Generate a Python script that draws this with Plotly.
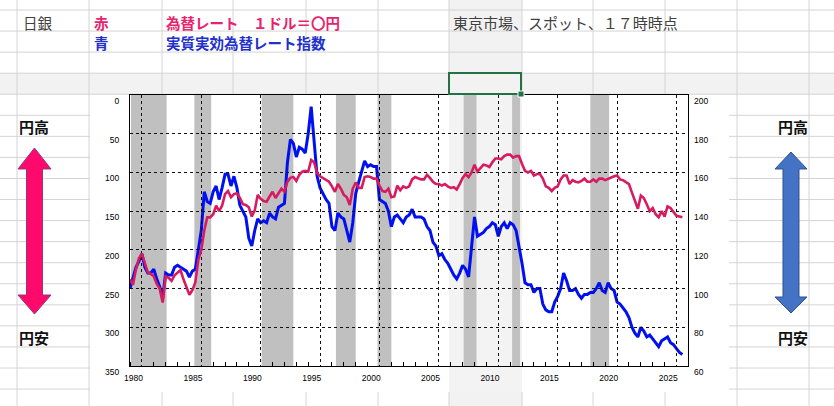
import numpy as np
import pandas as pd
import plotly.graph_objects as go

# ==================== データ ====================
# 四半期（1月・4月・7月・10月）の値を画像から読み取り
start_quarter = "1980Q1"

# 赤：為替レート 1ドル＝○円（左軸・反転）
usd_jpy = [
    238, 245, 225, 211,   # 1980
    205, 218, 229, 231,   # 1981
    234, 244, 250, 268,   # 1982
    234, 236, 240, 233,   # 1983
    230, 226, 238, 247,   # 1984
    258, 252, 242, 213,   # 1985
    200, 175, 158, 158,   # 1986
    154, 143, 150, 143,   # 1987
    128, 124, 132, 128,   # 1988
    127, 133, 141, 142,   # 1989
    145, 157, 149, 129,   # 1990
    134, 137, 138, 131,   # 1991
    125, 133, 127, 121,   # 1992
    125, 112, 107, 106,   # 1993
    111, 103, 99, 98,     # 1994
    99, 84, 87, 101,      # 1995
    105, 107, 109, 112,   # 1996
    118, 125, 115, 121,   # 1997
    129, 132, 142, 121,   # 1998
    113, 120, 120, 106,   # 1999
    105, 106, 108, 108,   # 2000
    117, 124, 125, 121,   # 2001
    132, 131, 117, 123,   # 2002
    118, 120, 118, 109,   # 2003
    106, 107, 109, 109,   # 2004
    103, 107, 112, 115,   # 2005
    115, 117, 115, 118,   # 2006
    120, 119, 122, 115,   # 2007
    107, 102, 106, 100,   # 2008
    90, 99, 95, 90,       # 2009
    91, 93, 87, 82,       # 2010
    82, 83, 79, 77,       # 2011
    77, 81, 79, 79,       # 2012
    89, 98, 100, 98,      # 2013
    104, 102, 102, 108,   # 2014
    118, 120, 124, 120,   # 2015
    118, 109, 104, 104,   # 2016
    115, 110, 112, 113,   # 2017
    111, 108, 112, 112,   # 2018
    109, 112, 108, 108,   # 2019
    110, 108, 107, 105,   # 2020
    104, 109, 110, 113,   # 2021
    115, 126, 136, 147,   # 2022
    130, 133, 141, 150,   # 2023
    146, 154, 158, 150,   # 2024
    157, 144, 146, 151,   # 2025
    156, 157, 158,        # 2026
]

# 青：実質実効為替レート指数（右軸）
reer = [
    100, 106, 111, 114,   # 1980
    118, 111, 108, 108,   # 1981
    110, 105, 101, 95,    # 1982
    108, 107, 107, 111,   # 1983
    112, 111, 110, 109,   # 1984
    106, 109, 110, 120,   # 1985
    130, 150, 145, 144,   # 1986
    150, 153, 146, 152,   # 1987
    159, 159, 153, 158,   # 1988
    152, 143, 140, 137,   # 1989
    126, 122, 130, 136,   # 1990
    134, 135, 134, 139,   # 1991
    137, 136, 142, 143,   # 1992
    144, 165, 177, 175,   # 1993
    168, 173, 172, 170,   # 1994
    180, 194, 175, 158,   # 1995
    152, 149, 146, 144,   # 1996
    132, 130, 139, 137,   # 1997
    136, 130, 124, 134,   # 1998
    149, 155, 160, 166,   # 1999
    163, 164, 163, 163,   # 2000
    146, 145, 144, 140,   # 2001
    132, 137, 138, 136,   # 2002
    134, 137, 138, 141,   # 2003
    137, 137, 137, 136,   # 2004
    132, 130, 124, 122,   # 2005
    117, 118, 115, 113,   # 2006
    110, 107, 105, 108,   # 2007
    112, 110, 106, 120,   # 2008
    137, 127, 128, 129,   # 2009
    131, 132, 134, 133,   # 2010
    127, 132, 134, 131,   # 2011
    134, 133, 130, 122,   # 2012
    113, 103, 102, 102,   # 2013
    98, 100, 100, 92,     # 2014
    89, 88, 88, 93,       # 2015
    96, 100, 108, 104,    # 2016
    99, 99, 100, 97,      # 2017
    95, 97, 97, 98,       # 2018
    98, 100, 103, 99,     # 2019
    98, 103, 100, 99,     # 2020
    93, 92, 90, 88,       # 2021
    85, 80, 77, 75,       # 2022
    80, 78, 75, 76,       # 2023
    74, 72, 70, 73,       # 2024
    74, 75, 72, 71,       # 2025
    69, 67, 66,           # 2026
]

# 景気後退期（灰色の帯）
recession_start = ["1980-02", "1985-06", "1991-02", "1997-05", "2000-11", "2008-02", "2012-03", "2018-10"]
recession_end = ["1983-02", "1986-11", "1993-10", "1999-01", "2002-01", "2009-03", "2012-11", "2020-05"]

# 軸
x_label_years = [1980, 1985, 1990, 1995, 2000, 2005, 2010, 2015, 2020, 2025]
left_ticks = [0, 50, 100, 150, 200, 250, 300, 350]
right_ticks = [60, 80, 100, 120, 140, 160, 180, 200]


def to_year(s):
    d = pd.Timestamp(s)
    return d.year + (d.month - 1) / 12


q = pd.period_range(start_quarter, periods=len(usd_jpy), freq="Q")
t = q.year + (q.quarter - 1) / 4

# ==================== レイアウト（ピクセル→paper） ====================
W, H = 834, 406
PL, PR, PT, PB = 130, 688, 95, 366  # プロット領域


def px(x):
    return (x - PL) / (PR - PL)


def py(y):
    return (PB - y) / (PB - PT)


GRID = "#D4D4D4"
SEL = "#F2F2F2"
PINK = "#D81B60"
BLUE = "#0010F0"

shapes = []
# 選択行・選択列のハイライト
shapes.append(dict(type="rect", xref="paper", yref="paper", x0=px(0), x1=px(W), y0=py(94), y1=py(73),
                   fillcolor=SEL, line_width=0, layer="below"))
shapes.append(dict(type="rect", xref="paper", yref="paper", x0=px(449), x1=px(522), y0=py(H), y1=py(0),
                   fillcolor=SEL, line_width=0, layer="below"))
# Excel のセル罫線
for cx in [17, 89, 162, 233, 306, 378, 449, 522, 593, 665, 737, 809]:
    shapes.append(dict(type="line", xref="paper", yref="paper", x0=px(cx), x1=px(cx), y0=py(0), y1=py(H),
                       line=dict(color=GRID, width=1), layer="below"))
for k in range(19):
    ry = 10 + 21.06 * k
    shapes.append(dict(type="line", xref="paper", yref="paper", x0=px(0), x1=px(W), y0=py(ry), y1=py(ry),
                       line=dict(color=GRID, width=1), layer="below"))
# グラフエリア
shapes.append(dict(type="rect", xref="paper", yref="paper", x0=px(90), x1=px(729), y0=py(392), y1=py(95),
                   fillcolor="white", line_width=0, layer="below"))
shapes.append(dict(type="rect", xref="paper", yref="paper", x0=px(449), x1=px(522), y0=py(392), y1=py(95),
                   fillcolor="#F3F3F3", line_width=0, layer="below"))
# 景気後退期
for s, e in zip(recession_start, recession_end):
    shapes.append(dict(type="rect", xref="x", yref="paper", x0=to_year(s), x1=to_year(e), y0=0, y1=1,
                       fillcolor="#C0C0C0", line_width=0, layer="below"))
# 選択セル
shapes.append(dict(type="rect", xref="paper", yref="paper", x0=px(449), x1=px(521), y0=py(94), y1=py(73),
                   line=dict(color="#217346", width=2), fillcolor="rgba(0,0,0,0)"))
shapes.append(dict(type="rect", xref="paper", yref="paper", x0=px(518), x1=px(524), y0=py(97), y1=py(91),
                   line=dict(color="white", width=1), fillcolor="#217346"))


def double_arrow(cx, top, bottom, head_w, shaft_w, head_h_top, head_h_bot):
    pts = [(cx, top), (cx + head_w, top + head_h_top), (cx + shaft_w, top + head_h_top),
           (cx + shaft_w, bottom - head_h_bot), (cx + head_w, bottom - head_h_bot), (cx, bottom),
           (cx - head_w, bottom - head_h_bot), (cx - shaft_w, bottom - head_h_bot),
           (cx - shaft_w, top + head_h_top), (cx - head_w, top + head_h_top)]
    return "M " + " L ".join(f"{px(a):.5f},{py(b):.5f}" for a, b in pts) + " Z"


shapes.append(dict(type="path", xref="paper", yref="paper", path=double_arrow(34.5, 148, 314, 16.5, 8, 21, 19),
                   fillcolor="#FF0A6C", line=dict(color="#8E3A7E", width=1)))
shapes.append(dict(type="path", xref="paper", yref="paper", path=double_arrow(791, 152, 313, 16, 8, 17, 16),
                   fillcolor="#4472C4", line=dict(color="#2F528F", width=1)))

# ==================== 文字 ====================
JP = "Noto Sans CJK JP"
annotations = []


def text(x, y, s, color="#404040", size=14.5, anchor="left"):
    annotations.append(dict(x=px(x), y=py(y), xref="paper", yref="paper", text=s, showarrow=False,
                            xanchor=anchor, yanchor="middle",
                            font=dict(family=JP, size=size, color=color)))


text(21, 22, "日銀")
text(92, 22, "<b>赤</b>", "#E8236E")
text(164, 22, "<b>為替レート　１ドル＝〇円</b>", "#E8236E")
text(92, 43, "<b>青</b>", "#2230CC")
text(164, 43, "<b>実質実効為替レート指数</b>", "#2230CC")
text(451, 22, "東京市場、スポット、１７時時点", size=15)
text(17, 127, "<b>円高</b>", "#111111", 15)
text(17, 337, "<b>円安</b>", "#111111", 15)
text(776, 127, "<b>円高</b>", "#111111", 15)
text(776, 337, "<b>円安</b>", "#111111", 15)

# ==================== 図 ====================
fig = go.Figure()
fig.add_trace(go.Scatter(x=t, y=usd_jpy, mode="lines", xaxis="x2", yaxis="y",
                         line=dict(color=PINK, width=2.6), name="為替レート"))
fig.add_trace(go.Scatter(x=t, y=reer, mode="lines", xaxis="x", yaxis="y2",
                         line=dict(color=BLUE, width=3), name="実質実効為替レート指数"))

x_range = [1980, 1980 + (PR - PL) / 11.88]
tick_font = dict(family="Liberation Sans Narrow, Liberation Sans, Arial", size=8.5, color="black")

fig.update_layout(
    width=W, height=H,
    margin=dict(l=PL, r=W - PR, t=PT, b=H - PB, autoexpand=False),
    paper_bgcolor="white", plot_bgcolor="rgba(0,0,0,0)",
    showlegend=False,
    shapes=shapes, annotations=annotations,
    xaxis=dict(range=x_range, tickmode="array", tickvals=[y + 0.3 for y in x_label_years],
               ticktext=[str(y) for y in x_label_years], ticks="", showgrid=False, zeroline=False,
               showline=True, mirror=True, linecolor="black", linewidth=1.3,
               tickfont=tick_font, ticklabelstandoff=4, automargin=False),
    xaxis2=dict(range=x_range, overlaying="x", anchor="y", side="bottom", tick0=1981, dtick=5,
                showgrid=True, gridcolor="#111111", griddash="3px,3px", gridwidth=1,
                showticklabels=False, ticks="", showline=False, zeroline=False,
                minor=dict(ticks="inside", ticklen=4, tick0=1981, dtick=1, tickcolor="black", showgrid=False),
                automargin=False),
    yaxis=dict(range=[350, 0], tickmode="array", tickvals=left_ticks, ticks="",
               showgrid=True, gridcolor="#111111", griddash="3px,3px", gridwidth=1,
               showline=True, mirror=True, linecolor="black", linewidth=1.3, zeroline=False,
               tickfont=tick_font, ticklabelposition="outside bottom", ticklabelstandoff=8,
               automargin=False),
    yaxis2=dict(range=[60, 200], tickmode="array", tickvals=right_ticks, overlaying="y", anchor="x",
                side="right", ticks="", showgrid=False, zeroline=False, showline=False,
                tickfont=tick_font, ticklabelposition="outside bottom", ticklabelstandoff=5,
                automargin=False),
)

# ページ余白を消して、図を左上に合わせる
fig.write_html("out.html", config={"displayModeBar": False},
               post_script="document.body.style.margin='0';")
